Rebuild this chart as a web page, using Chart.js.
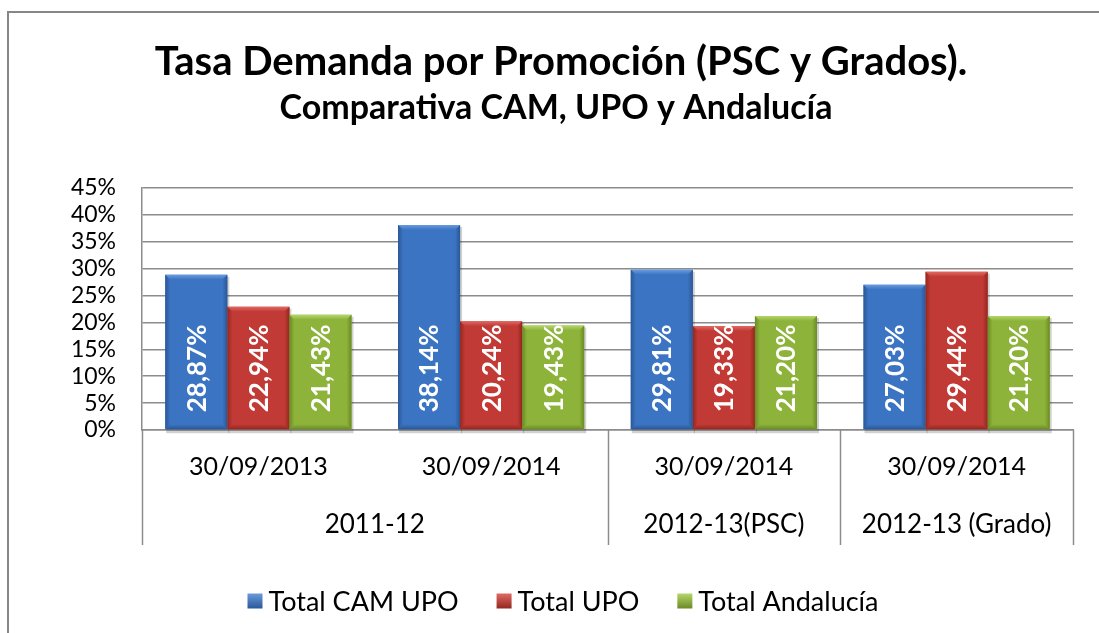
<!DOCTYPE html>
<html>
<head>
<meta charset="utf-8">
<script src="https://cdn.jsdelivr.net/npm/chart.js@4.4.1/dist/chart.umd.min.js"></script>
<style>
  html, body { margin: 0; padding: 0; background: #fff; }
  #wrap { position: relative; width: 1099px; height: 633px; }
</style>
</head>
<body>
<div id="wrap"><canvas id="c" width="1099" height="633"></canvas></div>
<script>
const titleText = 'Tasa Demanda por Promoción (PSC y Grados).';
const subtitleText = 'Comparativa CAM, UPO y Andalucía';
const categories = ['30/09/2013', '30/09/2014', '30/09/2014', '30/09/2014'];
const groupLabels = ['2011-12', '2012-13(PSC)', '2012-13 (Grado)'];
const groupSpans = [2, 1, 1];
const seriesNames = ['Total CAM UPO', 'Total UPO', 'Total Andalucía'];
const totalCamUpo = [28.87, 38.14, 29.81, 27.03];
const totalUpo = [22.94, 20.24, 19.33, 29.44];
const totalAndalucia = [21.43, 19.43, 21.20, 21.20];
const yTicks = [0, 5, 10, 15, 20, 25, 30, 35, 40, 45];

const FONT = 'Lato, "Open Sans", sans-serif';
const palette = [
  { base: '#3b74c2', light: '#6a9be0', dark: '#2a5796' },
  { base: '#c23a35', light: '#e06a63', dark: '#93271f' },
  { base: '#8db33a', light: '#b5d66a', dark: '#6b8a25' }
];

function fmt(v) { return v.toFixed(2).replace('.', ',') + '%'; }

const decorPlugin = {
  id: 'decor',
  beforeDraw(chart) {
    const ctx = chart.ctx;
    ctx.save();
    ctx.fillStyle = '#fff';
    ctx.fillRect(0, 0, chart.width, chart.height);
    ctx.strokeStyle = '#868686';
    ctx.lineWidth = 2;
    ctx.beginPath();
    ctx.moveTo(8, 700);
    ctx.lineTo(8, 12);
    ctx.lineTo(1200, 12);
    ctx.stroke();
    ctx.fillStyle = '#000';
    ctx.textAlign = 'center';
    ctx.textBaseline = 'middle';
    ctx.font = 'bold 40px ' + FONT;
    ctx.fillText(titleText, 561, 62);
    ctx.font = 'bold 34px ' + FONT;
    ctx.fillText(subtitleText, 556, 108);
    ctx.restore();
  },
  beforeDatasetsDraw(chart) {
    const ctx = chart.ctx;
    ctx.save();
    chart.data.datasets.forEach((ds, di) => {
      chart.getDatasetMeta(di).data.forEach(bar => {
        const l = bar.x - bar.width / 2;
        ctx.fillStyle = 'rgba(0,0,0,0.18)';
        ctx.fillRect(l + 1, bar.y + 2, bar.width + 1, bar.base - bar.y + 2);
      });
    });
    ctx.restore();
  },
  afterDatasetsDraw(chart) {
    const ctx = chart.ctx;
    ctx.save();
    chart.data.datasets.forEach((ds, di) => {
      const p = palette[di];
      chart.getDatasetMeta(di).data.forEach((bar, i) => {
        const l = bar.x - bar.width / 2, r = bar.x + bar.width / 2;
        const t = bar.y, b = bar.base;
        const e = 5;
        let g = ctx.createLinearGradient(0, t, 0, t + e);
        g.addColorStop(0, p.light);
        g.addColorStop(1, p.base);
        ctx.fillStyle = g;
        ctx.beginPath();
        ctx.moveTo(l, t); ctx.lineTo(r, t); ctx.lineTo(r - e, t + e); ctx.lineTo(l + e, t + e); ctx.closePath();
        ctx.fill();
        g = ctx.createLinearGradient(l, 0, l + e, 0);
        g.addColorStop(0, p.dark);
        g.addColorStop(1, p.base);
        ctx.fillStyle = g;
        ctx.beginPath();
        ctx.moveTo(l, t); ctx.lineTo(l + e, t + e); ctx.lineTo(l + e, b - e); ctx.lineTo(l, b); ctx.closePath();
        ctx.fill();
        g = ctx.createLinearGradient(r - e, 0, r, 0);
        g.addColorStop(0, p.base);
        g.addColorStop(1, p.dark);
        ctx.fillStyle = g;
        ctx.beginPath();
        ctx.moveTo(r, t); ctx.lineTo(r - e, t + e); ctx.lineTo(r - e, b - e); ctx.lineTo(r, b); ctx.closePath();
        ctx.fill();
        g = ctx.createLinearGradient(0, b - e, 0, b);
        g.addColorStop(0, p.base);
        g.addColorStop(1, p.dark);
        ctx.fillStyle = g;
        ctx.beginPath();
        ctx.moveTo(l, b); ctx.lineTo(r, b); ctx.lineTo(r - e, b - e); ctx.lineTo(l + e, b - e); ctx.closePath();
        ctx.fill();
        ctx.save();
        ctx.translate(bar.x, b - 17);
        ctx.rotate(-Math.PI / 2);
        ctx.fillStyle = '#fff';
        ctx.font = 'bold 26px ' + FONT;
        ctx.textAlign = 'left';
        ctx.textBaseline = 'middle';
        ctx.fillText(fmt(ds.data[i]), 0, 1);
        ctx.restore();
      });
    });
    ctx.restore();
  },
  afterDraw(chart) {
    const ctx = chart.ctx;
    const xs = chart.scales.x;
    const area = chart.chartArea;
    const half = (xs.getPixelForValue(1) - xs.getPixelForValue(0)) / 2;
    ctx.save();
    ctx.strokeStyle = '#8c8c8c';
    ctx.lineWidth = 1.5;
    let idx = 0;
    const bounds = [xs.getPixelForValue(0) - half];
    groupSpans.forEach(s => { idx += s; bounds.push(xs.getPixelForValue(idx - 1) + half); });
    bounds.forEach(x => {
      ctx.beginPath();
      ctx.moveTo(Math.round(x) + 0.5, area.bottom);
      ctx.lineTo(Math.round(x) + 0.5, 545);
      ctx.stroke();
    });
    ctx.fillStyle = '#000';
    ctx.font = '26px ' + FONT;
    ctx.textAlign = 'center';
    ctx.textBaseline = 'middle';
    groupLabels.forEach((lab, gi) => {
      ctx.fillText(lab, (bounds[gi] + bounds[gi + 1]) / 2, 525);
    });
    const items = seriesNames.map((n, i) => ({ n, i }));
    ctx.font = '27px ' + FONT;
    const box = 15, gap1 = 6, gap2 = 38;
    let total = 0;
    items.forEach((it, k) => { total += box + gap1 + ctx.measureText(it.n).width + (k < items.length - 1 ? gap2 : 0); });
    let x = 563 - total / 2;
    const y = 601;
    items.forEach(it => {
      const p = palette[it.i];
      const g = ctx.createLinearGradient(x, y - box / 2, x, y + box / 2);
      g.addColorStop(0, p.light);
      g.addColorStop(1, p.dark);
      ctx.fillStyle = g;
      ctx.fillRect(x, y - box / 2, box, box);
      ctx.fillStyle = '#000';
      ctx.textAlign = 'left';
      ctx.fillText(it.n, x + box + gap1, y + 1);
      x += box + gap1 + ctx.measureText(it.n).width + gap2;
    });
    ctx.restore();
  }
};

new Chart(document.getElementById('c'), {
  type: 'bar',
  data: {
    labels: categories,
    datasets: [
      { label: seriesNames[0], data: totalCamUpo, backgroundColor: palette[0].base },
      { label: seriesNames[1], data: totalUpo, backgroundColor: palette[1].base },
      { label: seriesNames[2], data: totalAndalucia, backgroundColor: palette[2].base }
    ]
  },
  options: {
    responsive: false,
    animation: false,
    devicePixelRatio: 1,
    layout: { padding: { top: 188, bottom: 88, left: 0, right: 26 } },
    datasets: { bar: { categoryPercentage: 0.8, barPercentage: 1.0 } },
    plugins: {
      legend: { display: false },
      title: { display: false },
      tooltip: { enabled: false }
    },
    scales: {
      x: {
        offset: true,
        grid: { display: false, drawTicks: false },
        border: { display: true, color: '#8c8c8c', width: 1.5 },
        ticks: { color: '#000', font: { family: FONT, size: 25 }, padding: 22, maxRotation: 0, autoSkip: false },
        afterFit(scale) { scale.height = 115; }
      },
      y: {
        min: 0, max: 45,
        afterBuildTicks(scale) { scale.ticks = yTicks.map(v => ({ value: v })); },
        grid: { color: '#8c8c8c', lineWidth: 1.5, drawTicks: false },
        border: { display: true, color: '#8c8c8c', width: 1.5 },
        ticks: { color: '#000', font: { family: FONT, size: 23 }, padding: 26, autoSkip: false, callback: v => v + '%' },
        afterFit(scale) { scale.width = 142; }
      }
    }
  },
  plugins: [decorPlugin]
});
</script>
</body>
</html>
